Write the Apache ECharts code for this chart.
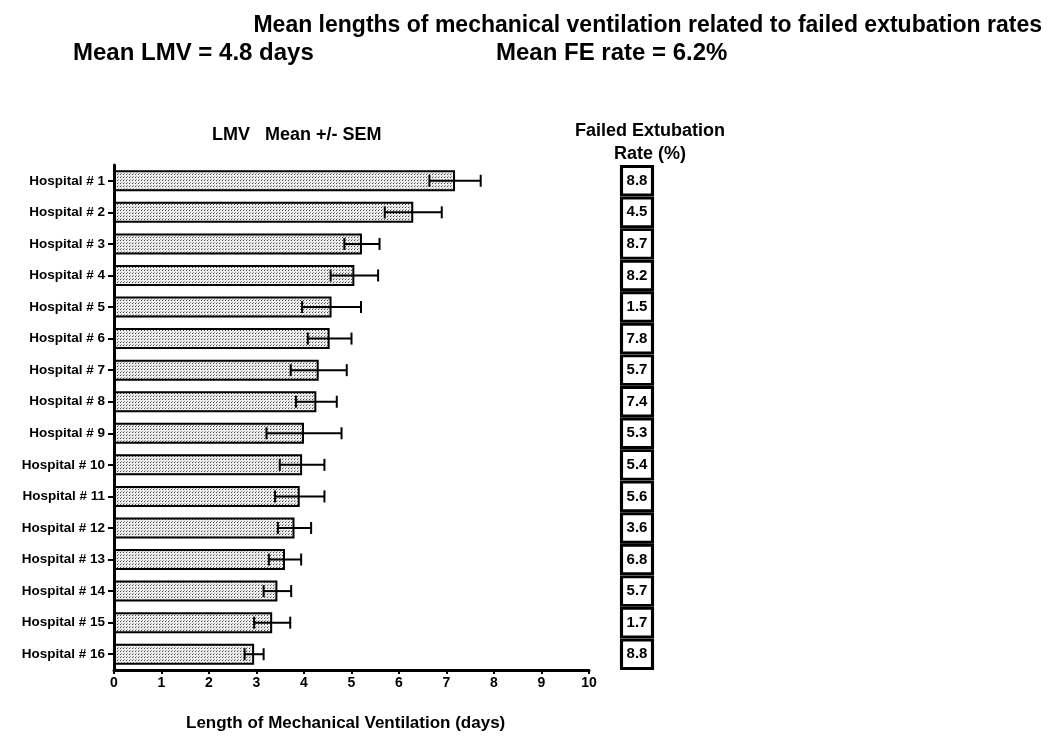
<!DOCTYPE html>
<html>
<head>
<meta charset="utf-8">
<script src="https://cdn.jsdelivr.net/npm/echarts@6/dist/echarts.min.js"></script>
<style>
  html, body { margin: 0; padding: 0; background: #fff; }
  #chart { width: 1050px; height: 753px; }
</style>
</head>
<body>
<div id="chart"></div>
<script>
var hospitals = ['Hospital # 1','Hospital # 2','Hospital # 3','Hospital # 4','Hospital # 5','Hospital # 6','Hospital # 7','Hospital # 8',
                 'Hospital # 9','Hospital # 10','Hospital # 11','Hospital # 12','Hospital # 13','Hospital # 14','Hospital # 15','Hospital # 16'];
// mean length of mechanical ventilation (days)
var lmvMean = [7.18, 6.30, 5.22, 5.06, 4.58, 4.54, 4.31, 4.26, 4.00, 3.96, 3.91, 3.80, 3.60, 3.44, 3.33, 2.95];
// standard error of mean
var lmvSem = [0.54, 0.60, 0.37, 0.50, 0.62, 0.46, 0.59, 0.43, 0.79, 0.47, 0.52, 0.35, 0.34, 0.29, 0.38, 0.20];
// failed extubation rate (%)
var feRate = [8.8, 4.5, 8.7, 8.2, 1.5, 7.8, 5.7, 7.4, 5.3, 5.4, 5.6, 3.6, 6.8, 5.7, 1.7, 8.8];
var xTicks = [0, 1, 2, 3, 4, 5, 6, 7, 8, 9, 10];

var FONT = 'Liberation Sans, Arial, sans-serif';

// dotted fill like the original print
function dotPattern() {
  var c = document.createElement('canvas');
  c.width = 3; c.height = 3;
  var ctx = c.getContext('2d');
  ctx.fillStyle = '#eeeeee';
  ctx.fillRect(0, 0, 3, 3);
  ctx.fillStyle = '#444';
  ctx.fillRect(0, 0, 1, 1);
  ctx.fillStyle = '#999';
  ctx.fillRect(1, 2, 1, 1);
  return c;
}

var errData = [];
for (var i = 0; i < lmvMean.length; i++) {
  errData.push([i, lmvMean[i] - lmvSem[i], lmvMean[i] + lmvSem[i]]);
}
var boxData = [];
for (var j = 0; j < feRate.length; j++) {
  boxData.push([0.5, j, feRate[j]]);
}

var chart = echarts.init(document.getElementById('chart'));
var option = {
  animation: false,
  backgroundColor: '#fff',
  title: [
    { text: 'Mean lengths of mechanical ventilation related to failed extubation rates', right: 3, top: 9,
      textStyle: { fontFamily: FONT, fontSize: 23, fontWeight: 'bold', color: '#000' } },
    { text: 'Mean LMV = 4.8 days', left: 68, top: 36,
      textStyle: { fontFamily: FONT, fontSize: 24, fontWeight: 'bold', color: '#000' } },
    { text: 'Mean FE rate = 6.2%', left: 491, top: 36,
      textStyle: { fontFamily: FONT, fontSize: 24, fontWeight: 'bold', color: '#000' } },
    { text: 'LMV   Mean +/- SEM', left: 207, top: 121,
      textStyle: { fontFamily: FONT, fontSize: 18, fontWeight: 'bold', color: '#000' } },
    { text: 'Failed Extubation\nRate (%)', left: 645, top: 115, textAlign: 'center',
      textStyle: { fontFamily: FONT, fontSize: 18, fontWeight: 'bold', color: '#000', lineHeight: 23 } },
    { text: 'Length of Mechanical Ventilation (days)', left: 181, top: 710,
      textStyle: { fontFamily: FONT, fontSize: 17, fontWeight: 'bold', color: '#000' } }
  ],
  grid: [
    { left: 114, top: 165, width: 475, height: 505 },
    { left: 620, top: 165, width: 34, height: 505 }
  ],
  xAxis: [
    {
      gridIndex: 0, type: 'value', min: 0, max: 10, interval: 1,
      axisLine: { show: true, lineStyle: { color: '#000', width: 3 } },
      axisTick: { show: true, length: 4, lineStyle: { color: '#000', width: 2 } },
      axisLabel: { fontFamily: FONT, fontSize: 14, fontWeight: 'bold', color: '#000', margin: 6,
        formatter: function (v) { return xTicks.indexOf(v) >= 0 ? String(v) : ''; } },
      splitLine: { show: false }
    },
    { gridIndex: 1, type: 'value', min: 0, max: 1, show: false }
  ],
  yAxis: [
    {
      gridIndex: 0, type: 'category', data: hospitals, inverse: true,
      axisLine: { show: true, lineStyle: { color: '#000', width: 3 } },
      axisTick: { show: true, alignWithLabel: true, length: 6, lineStyle: { color: '#000', width: 2 } },
      axisLabel: { fontFamily: FONT, fontSize: 13.5, fontWeight: 'bold', color: '#000', margin: 9 }
    },
    { gridIndex: 1, type: 'category', data: hospitals, inverse: true, show: false }
  ],
  series: [
    {
      type: 'bar', xAxisIndex: 0, yAxisIndex: 0, data: lmvMean, barWidth: 21,
      itemStyle: { color: { image: dotPattern(), repeat: 'repeat' }, borderColor: '#000', borderWidth: 2 }
    },
    {
      type: 'custom', xAxisIndex: 0, yAxisIndex: 0, data: errData,
      renderItem: function (params, api) {
        var y = api.value(0);
        var lo = api.coord([api.value(1), y]);
        var hi = api.coord([api.value(2), y]);
        var h = 6;
        var st = { stroke: '#000', lineWidth: 2 };
        return {
          type: 'group',
          children: [
            { type: 'line', shape: { x1: lo[0], y1: lo[1], x2: hi[0], y2: hi[1] }, style: st },
            { type: 'line', shape: { x1: lo[0], y1: lo[1] - h, x2: lo[0], y2: lo[1] + h }, style: st },
            { type: 'line', shape: { x1: hi[0], y1: hi[1] - h, x2: hi[0], y2: hi[1] + h }, style: st }
          ]
        };
      },
      z: 5
    },
    {
      type: 'scatter', xAxisIndex: 1, yAxisIndex: 1, data: boxData,
      symbol: 'rect', symbolSize: [31, 28.5],
      itemStyle: { color: '#fff', borderColor: '#000', borderWidth: 3, opacity: 1 },
      label: { show: true, position: 'inside', fontFamily: FONT, fontSize: 15, fontWeight: 'bold', color: '#000',
        formatter: function (p) { return p.value[2].toFixed(1); } }
    }
  ]
};
chart.setOption(option);
</script>
</body>
</html>
